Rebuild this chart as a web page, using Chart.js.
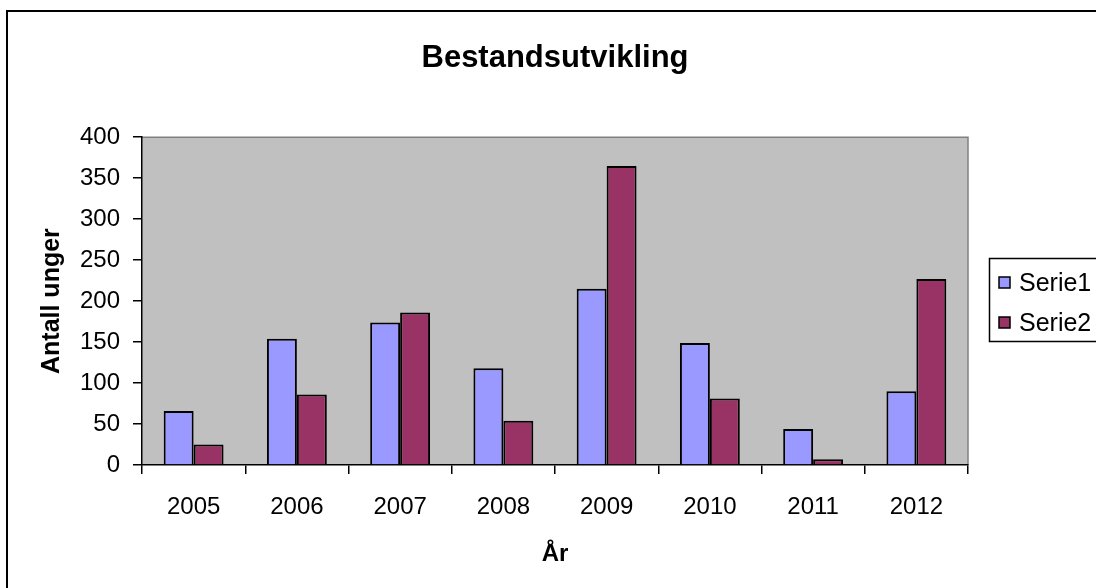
<!DOCTYPE html>
<html lang="no">
<head>
<meta charset="UTF-8">
<title>Bestandsutvikling</title>
<script src="https://cdn.jsdelivr.net/npm/chart.js"></script>
<style>
  html, body { margin: 0; padding: 0; background: #fff; overflow: hidden; }
  #wrap { width: 1096px; height: 588px; position: relative; }
</style>
</head>
<body>
<div id="wrap">
  <canvas id="chart"></canvas>
</div>
<script>
const years = ['2005', '2006', '2007', '2008', '2009', '2010', '2011', '2012'];
const serie1 = [66, 154, 174, 118, 215, 149, 44, 90];
const serie2 = [25, 86, 186, 54, 365, 81, 7, 227];
const seriesNames = ['Serie1', 'Serie2'];
const seriesColors = ['#9999FF', '#993366'];

const FONT = "'Liberation Sans', Arial, sans-serif";

// grå plotflate + ytre ramme
const plotBackground = {
  id: 'plotBackground',
  beforeDraw(chart) {
    const { ctx, chartArea: a } = chart;
    ctx.save();
    ctx.fillStyle = '#fff';
    ctx.fillRect(0, 0, chart.width, chart.height);
    ctx.fillStyle = '#C0C0C0';
    ctx.fillRect(a.left, a.top, a.right - a.left, a.bottom - a.top);
    ctx.strokeStyle = '#808080';
    ctx.lineWidth = 1.5;
    ctx.beginPath();
    ctx.moveTo(a.left, a.top);
    ctx.lineTo(a.right, a.top);
    ctx.lineTo(a.right, a.bottom);
    ctx.stroke();
    ctx.strokeStyle = '#000';
    ctx.lineWidth = 2;
    ctx.strokeRect(7, 11, 2000, 2000);
    ctx.restore();
  }
};

// forklaring i boks til høyre, som i Excel
const boxLegend = {
  id: 'boxLegend',
  afterDraw(chart) {
    const { ctx } = chart;
    ctx.save();
    ctx.strokeStyle = '#000';
    ctx.lineWidth = 1.5;
    ctx.fillStyle = '#fff';
    ctx.fillRect(989.5, 258.5, 300, 83);
    ctx.strokeRect(989.5, 258.5, 300, 83);
    ctx.font = '25px ' + FONT;
    ctx.textBaseline = 'middle';
    chart.data.datasets.forEach((ds, i) => {
      const y = 283 + i * 40;
      ctx.fillStyle = ds.backgroundColor;
      ctx.fillRect(999, y - 6, 11, 11);
      ctx.strokeRect(999, y - 6, 11, 11);
      ctx.fillStyle = '#000';
      ctx.fillText(ds.label, 1019, y + 1);
    });
    ctx.restore();
  }
};

new Chart(document.getElementById('chart'), {
  type: 'bar',
  data: {
    labels: years,
    datasets: [
      {
        label: seriesNames[0],
        data: serie1,
        backgroundColor: seriesColors[0],
        borderColor: '#000',
        borderWidth: 2
      },
      {
        label: seriesNames[1],
        data: serie2,
        backgroundColor: seriesColors[1],
        borderColor: '#000',
        borderWidth: 2
      }
    ]
  },
  options: {
    responsive: true,
    maintainAspectRatio: false,
    animation: false,
    categoryPercentage: 0.58,
    barPercentage: 1.0,
    layout: { padding: { left: 0, right: 128, top: 0, bottom: 0 } },
    plugins: {
      legend: { display: false },
      tooltip: { enabled: false },
      title: {
        display: true,
        text: 'Bestandsutvikling',
        fullSize: false,
        color: '#000',
        font: { family: FONT, size: 31, weight: 'bold' },
        padding: { top: 40, bottom: 60 }
      }
    },
    scales: {
      x: {
        grid: { drawOnChartArea: false, color: '#000', lineWidth: 1.5, tickLength: 9 },
        border: { color: '#000', width: 1.5 },
        ticks: { color: '#000', font: { family: FONT, size: 24 }, padding: 19, maxRotation: 0 },
        title: {
          display: true,
          text: 'År',
          color: '#000',
          font: { family: FONT, size: 24, weight: 'bold' },
          padding: { top: 0, bottom: 19 }
        },
        afterFit(scale) { scale.height = 123; }
      },
      y: {
        min: 0,
        max: 400,
        ticks: { stepSize: 50, color: '#000', font: { family: FONT, size: 24 }, padding: 13 },
        grid: { drawOnChartArea: false, color: '#000', lineWidth: 1.5, tickLength: 9 },
        border: { color: '#000', width: 1.5 },
        title: {
          display: true,
          text: 'Antall unger',
          color: '#000',
          font: { family: FONT, size: 25, weight: 'bold' },
          padding: { top: 37, bottom: 0 }
        },
        afterFit(scale) { scale.width = 142; }
      }
    }
  },
  plugins: [plotBackground, boxLegend]
});
</script>
</body>
</html>
